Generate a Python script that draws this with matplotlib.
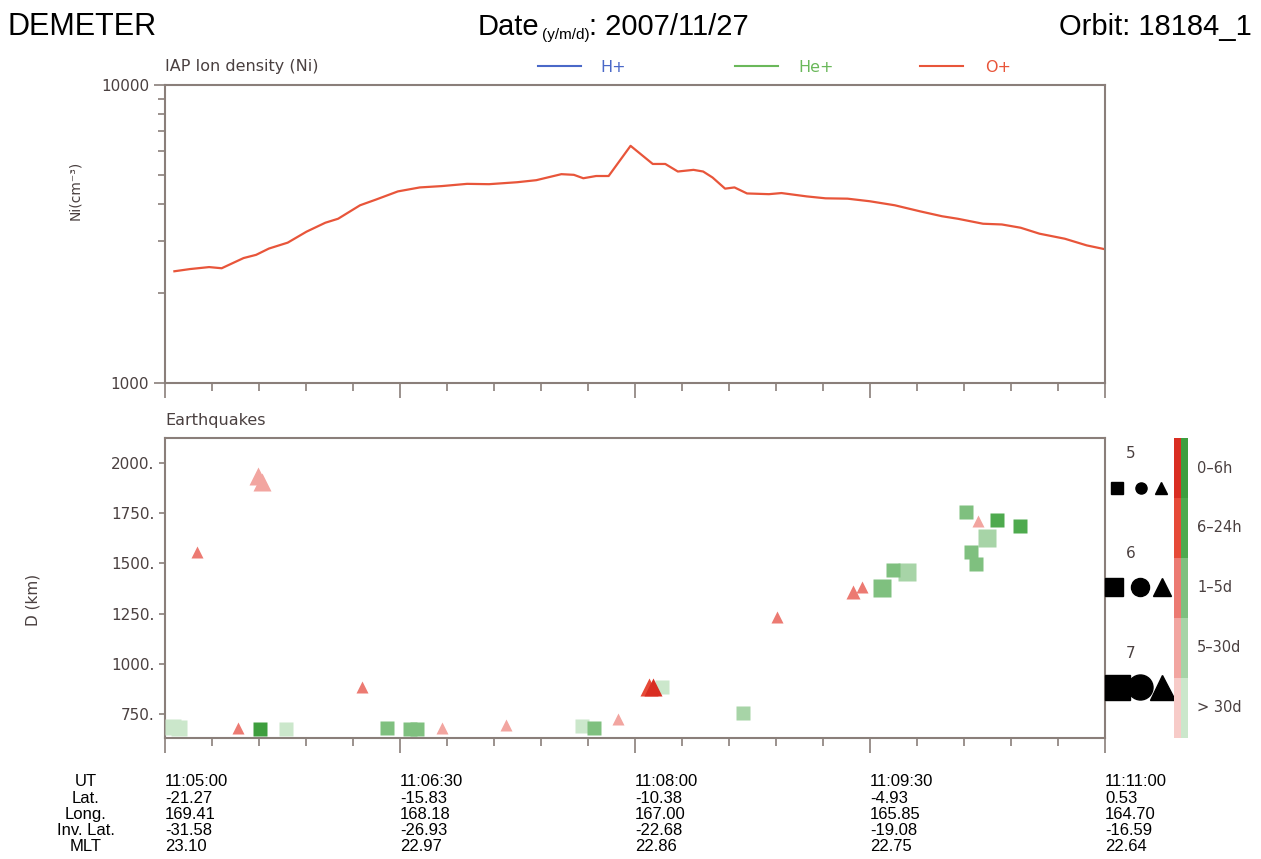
import matplotlib
matplotlib.use("Agg")
import matplotlib.pyplot as plt
from matplotlib.lines import Line2D

# --- data -------------------------------------------------------------
# O+ ion density, time in seconds after 11:05:00
ni_time_s = [3.6, 9.6, 16.9, 21.7, 30.1, 34.9, 39.8, 47.0, 54.2, 61.4, 66.3, 74.7,
             80.7, 89.2, 97.6, 106.0, 115.7, 124.1, 134.9, 142.2, 151.8, 156.6,
             160.2, 165.1, 169.9, 178.3, 186.8, 191.6, 196.4, 202.4, 206.1, 209.7,
             214.5, 218.1, 222.9, 231.3, 236.1, 245.8, 253.0, 261.4, 269.9, 279.5,
             289.2, 297.6, 303.6, 313.3, 320.5, 327.7, 334.9, 344.6, 353.0, 360.0]
ni_oplus = [2371, 2412, 2449, 2427, 2626, 2692, 2826, 2958, 3220, 3450, 3558, 3948,
            4123, 4395, 4532, 4579, 4659, 4647, 4718, 4793, 5021, 4995,
            4865, 4950, 4950, 6250, 5433, 5433, 5125, 5191, 5125, 4893,
            4490, 4532, 4326, 4302, 4339, 4228, 4166, 4155, 4073, 3948,
            3767, 3627, 3558, 3423, 3404, 3319, 3170, 3049, 2896, 2811]

# earthquakes: time (s after 11:05:00), distance (km), magnitude, age class, shape
eq_time_s = [3.0, 5.5, 12.2, 28.0, 35.5, 37.0, 36.4, 46.2, 75.3, 85.1, 93.8, 96.4,
             106.2, 130.5, 159.6, 164.3, 173.6, 190.2, 185.5, 187.0, 221.5, 234.5,
             263.6, 266.8, 274.7, 278.7, 284.3, 306.6, 311.5, 318.5, 327.4, 314.7,
             308.6, 310.6]
eq_dist_km = [683, 680, 1558, 682, 1935, 1905, 675, 675, 884, 680, 675, 675,
              682, 695, 690, 680, 723, 882, 886, 884, 757, 1234,
              1356, 1381, 1379, 1467, 1459, 1754, 1713, 1716, 1688, 1625,
              1558, 1497]
eq_mag = [5.7, 5.7, 5.2, 5.2, 6.1, 6.1, 5.3, 5.3, 5.2, 5.3, 5.3, 5.3,
          5.1, 5.1, 5.3, 5.3, 5.1, 5.3, 5.9, 5.9, 5.3, 5.2,
          5.3, 5.2, 6.0, 5.4, 6.0, 5.3, 5.1, 5.3, 5.3, 5.9,
          5.4, 5.4]
eq_age = [4, 4, 2, 2, 3, 3, 0, 4, 2, 2, 2, 2,
          3, 3, 4, 2, 3, 4, 1, 0, 3, 2,
          2, 2, 2, 2, 3, 2, 3, 1, 1, 3,
          2, 2]
eq_shape = ['s', 's', '^', '^', '^', '^', 's', 's', '^', 's', 's', 's',
            '^', '^', 's', 's', '^', 's', '^', '^', 's', '^',
            '^', '^', 's', 's', 's', 's', '^', 's', 's', 's',
            's', 's']

age_labels = ['0–6h', '6–24h', '1–5d', '5–30d', '> 30d']
red_cols = ['#d92e22', '#e64a38', '#ec7a72', '#f2a5a0', '#f7cbc8']
green_cols = ['#3e9e3e', '#4eaa4e', '#7fc07f', '#a7d4a7', '#cbe7cb']

legend_mags = [5, 6, 7]

ut_labels = ['11:05:00', '11:06:30', '11:08:00', '11:09:30', '11:11:00']
lat_vals = ['-21.27', '-15.83', '-10.38', '-4.93', '0.53']
long_vals = ['169.41', '168.18', '167.00', '165.85', '164.70']
invlat_vals = ['-31.58', '-26.93', '-22.68', '-19.08', '-16.59']
mlt_vals = ['23.10', '22.97', '22.86', '22.75', '22.64']

# --- layout helpers (pixel -> figure fraction) -------------------------
W, H = 1261, 859
def fx(px): return px / W
def fy(py): return 1 - py / H

spine_col = '#8a7f7a'
txt_col = '#4a4040'
helv = 'Liberation Sans'

def msize(m):
    return 8 + (m - 5) * 5

fig = plt.figure(figsize=(W / 100, H / 100), dpi=100)

def style_axes(ax):
    for s in ax.spines.values():
        s.set_color(spine_col)
        s.set_linewidth(1.5)
    ax.tick_params(which='both', direction='out', colors=spine_col,
                   labelcolor=txt_col, labelsize=11, width=1.2)
    ax.set_xlim(0, 360)
    ax.set_xticks([0, 90, 180, 270, 360])
    ax.set_xticks(range(0, 361, 18), minor=True)
    ax.tick_params(axis='x', which='major', length=11, labelbottom=False)
    ax.tick_params(axis='x', which='minor', length=6)

# --- top panel: ion density --------------------------------------------
ax1 = fig.add_axes([fx(165), fy(383), 940 / W, 298 / H])
style_axes(ax1)
ax1.plot(ni_time_s, ni_oplus, color='#e8553a', lw=1.6)
ax1.set_yscale('log')
ax1.set_ylim(1000, 10000)
ax1.set_yticks([1000, 10000])
ax1.set_yticklabels(['1000', '10000'])
ax1.tick_params(axis='y', which='major', length=8)
ax1.tick_params(axis='y', which='minor', length=5, labelleft=False)
fig.text(fx(75), fy(190), 'Ni(cm⁻³)', rotation=90, ha='center', va='center',
         color=txt_col, fontsize=10)
fig.text(fx(165), fy(67), 'IAP Ion density (Ni)', ha='left', va='center',
         color=txt_col, fontsize=11.5)

leg_items = [('H+', '#4a68c8', 538, 600), ('He+', '#6ab85a', 735, 798), ('O+', '#e8553a', 920, 985)]
for name, col, x0, xt in leg_items:
    fig.add_artist(Line2D([fx(x0), fx(x0 + 43)], [fy(66), fy(66)],
                          transform=fig.transFigure, color=col, lw=1.5))
    fig.text(fx(xt), fy(67), name, color=col, fontsize=11.5, ha='left', va='center')

# --- bottom panel: earthquakes -----------------------------------------
ax2 = fig.add_axes([fx(165), fy(738), 940 / W, 300 / H])
style_axes(ax2)
ax2.set_ylim(630, 2125)
ax2.set_yticks([750, 1000, 1250, 1500, 1750, 2000])
ax2.set_yticklabels(['750.', '1000.', '1250.', '1500.', '1750.', '2000.'])
ax2.tick_params(axis='y', which='major', length=4)
for t, d, m, a, sh in zip(eq_time_s, eq_dist_km, eq_mag, eq_age, eq_shape):
    col = red_cols[a] if sh == '^' else green_cols[a]
    ax2.plot(t, d, marker=sh, ms=msize(m), color=col, mec='none', ls='none',
             zorder=3 + (4 - a))
fig.text(fx(165), fy(420), 'Earthquakes', ha='left', va='center',
         color=txt_col, fontsize=11.5)
fig.text(fx(33), fy(600), 'D (km)', rotation=90, ha='center', va='center',
         color=txt_col, fontsize=11)

# --- magnitude legend --------------------------------------------------
ax4 = fig.add_axes([fx(1105), fy(738), 68 / W, 300 / H])
ax4.set_xlim(1105, 1173)
ax4.set_ylim(738, 438)
ax4.axis('off')
rows_y = [488, 587, 687]
sym_x = {5: [1117, 1141, 1161], 6: [1114, 1140, 1162], 7: [1117, 1140, 1162]}
for mag, yy in zip(legend_mags, rows_y):
    ax4.text(1131, yy - 34, str(mag), ha='center', va='center',
             color=txt_col, fontsize=11)
    for mk, xx in zip(['s', 'o', '^'], sym_x[mag]):
        ax4.plot(xx, yy, marker=mk, ms=msize(mag), color='black', ls='none',
                 clip_on=False)

# --- age colour bar ----------------------------------------------------
ax3 = fig.add_axes([fx(1174), fy(738), 14 / W, 300 / H])
for i in range(len(age_labels)):
    ax3.bar(0, 1, bottom=4 - i, width=1, color=red_cols[i], align='edge')
    ax3.bar(1, 1, bottom=4 - i, width=1, color=green_cols[i], align='edge')
    fig.text(fx(1197), fy(468 + 60 * i), age_labels[i], ha='left', va='center',
             color=txt_col, fontsize=10.5)
ax3.set_xlim(0, 2)
ax3.set_ylim(0, 5)
ax3.axis('off')

# --- header ------------------------------------------------------------
fig.text(fx(7), fy(27), 'DEMETER', fontfamily=helv, fontsize=22, ha='left', va='center')
fig.text(fx(478), fy(27), 'Date', fontfamily=helv, fontsize=21, ha='left', va='center')
fig.text(fx(542), fy(35), '(y/m/d)', fontfamily=helv, fontsize=11, ha='left', va='center')
fig.text(fx(589), fy(27), ': 2007/11/27', fontfamily=helv, fontsize=21, ha='left', va='center')
fig.text(fx(1252), fy(27), 'Orbit: 18184_1', fontfamily=helv, fontsize=21, ha='right', va='center')

# --- orbit table -------------------------------------------------------
row_names = ['UT', 'Lat.', 'Long.', 'Inv. Lat.', 'MLT']
rows = [ut_labels, lat_vals, long_vals, invlat_vals, mlt_vals]
col_x = [165, 400, 635, 870, 1105]
for r, (name, vals) in enumerate(zip(row_names, rows)):
    yy = fy(782 + 16.2 * r)
    fig.text(fx(86), yy, name, fontfamily=helv, fontsize=12, ha='center', va='center')
    for xx, v in zip(col_x, vals):
        fig.text(fx(xx), yy, v, fontfamily=helv, fontsize=12, ha='left', va='center')

fig.savefig('out.png', dpi=100)
